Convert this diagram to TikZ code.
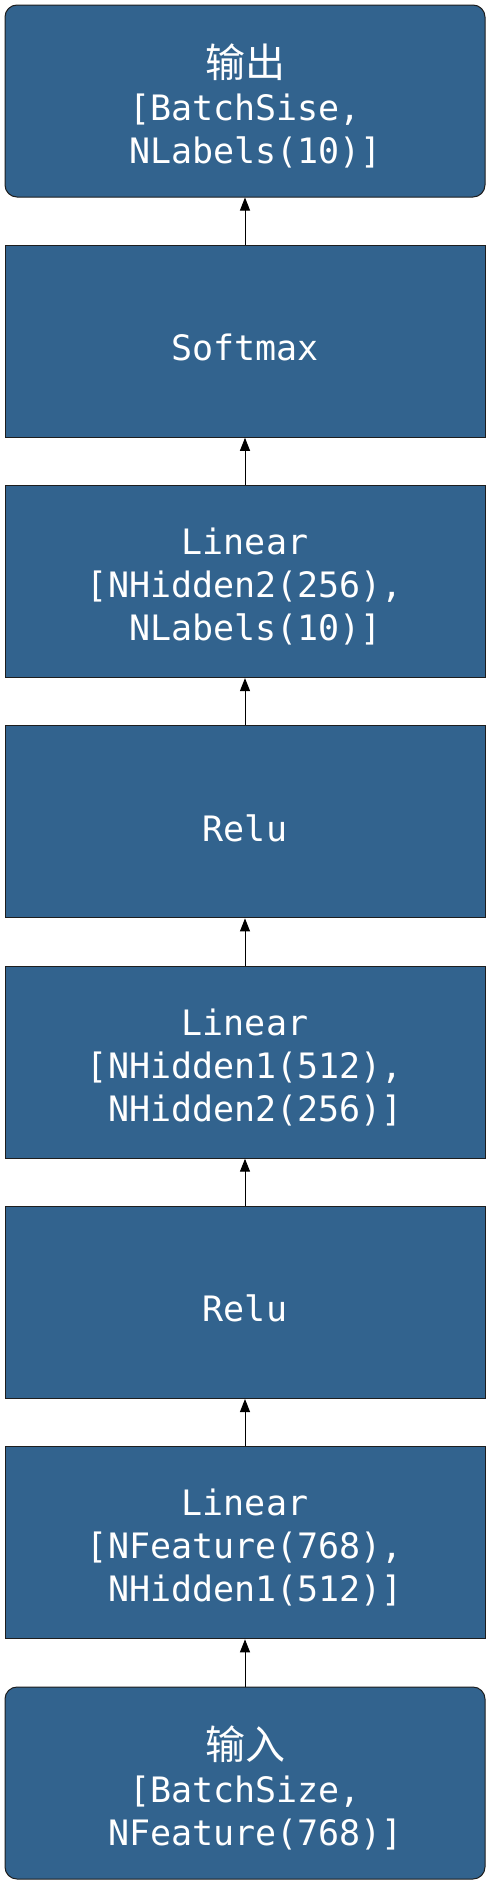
\documentclass[tikz,border=0pt]{standalone}
\usepackage{fontspec}
\usetikzlibrary{arrows.meta}
\newfontfamily\latf{DejaVu Sans Mono}
\newfontfamily\cjkf{Noto Sans CJK SC}
\definecolor{boxblue}{RGB}{50,99,142}
\definecolor{edgegray}{RGB}{30,30,30}
\newcommand{\lsp}{\hphantom{0}}
\newcommand{\cjktxt}[1]{{\cjkf\fontsize{40}{43}\selectfont #1}}
\tikzset{
  layer/.style={draw=edgegray, line width=1pt, fill=boxblue,
    minimum width=480pt, minimum height=192pt, inner sep=0pt},
  endbox/.style={layer, rounded corners=12pt},
  label text/.style={text=white, align=center, inner sep=0pt,
    font=\latf\fontsize{35}{43}\selectfont},
  flow/.style={draw=black, line width=1pt, -{Triangle[length=13pt,width=10pt]}}
}
\begin{document}
\begin{tikzpicture}[x=1pt,y=-1pt]
\useasboundingbox (0,0) rectangle (491,1885);
\fill[white] (0,0) rectangle (491,1885);
\node[endbox] (out) at (245,101) {};
\node[layer] (soft) at (245,341.3) {};
\node[layer] (lin3) at (245,581.6) {};
\node[layer] (relu2) at (245,821.9) {};
\node[layer] (lin2) at (245,1062.2) {};
\node[layer] (relu1) at (245,1302.5) {};
\node[layer] (lin1) at (245,1542.8) {};
\node[endbox] (in) at (245,1783) {};
\node[label text] (outT) at ([yshift=-5pt]out.center) {\cjktxt{输出}\\[0pt][BatchSise,\\\lsp NLabels(10)]};
\node[label text] (softT) at ([yshift=-6pt]soft.center) {Softmax};
\node[label text] (lin3T) at ([yshift=-5pt]lin3.center) {Linear\\[0pt][NHidden2(256),\\\lsp NLabels(10)]};
\node[label text] (relu2T) at ([yshift=-6pt]relu2.center) {Relu};
\node[label text] (lin2T) at ([yshift=-5pt]lin2.center) {Linear\\[0pt][NHidden1(512),\\\lsp NHidden2(256)]};
\node[label text] (relu1T) at ([yshift=-6pt]relu1.center) {Relu};
\node[label text] (lin1T) at ([yshift=-5pt]lin1.center) {Linear\\[0pt][NFeature(768),\\\lsp NHidden1(512)]};
\node[label text] (inT) at ([yshift=-5pt]in.center) {\cjktxt{输入}\\[0pt][BatchSize,\\\lsp NFeature(768)]};
\draw[flow] (in) -- (lin1);
\draw[flow] (lin1) -- (relu1);
\draw[flow] (relu1) -- (lin2);
\draw[flow] (lin2) -- (relu2);
\draw[flow] (relu2) -- (lin3);
\draw[flow] (lin3) -- (soft);
\draw[flow] (soft) -- (out);
\end{tikzpicture}
\end{document}
